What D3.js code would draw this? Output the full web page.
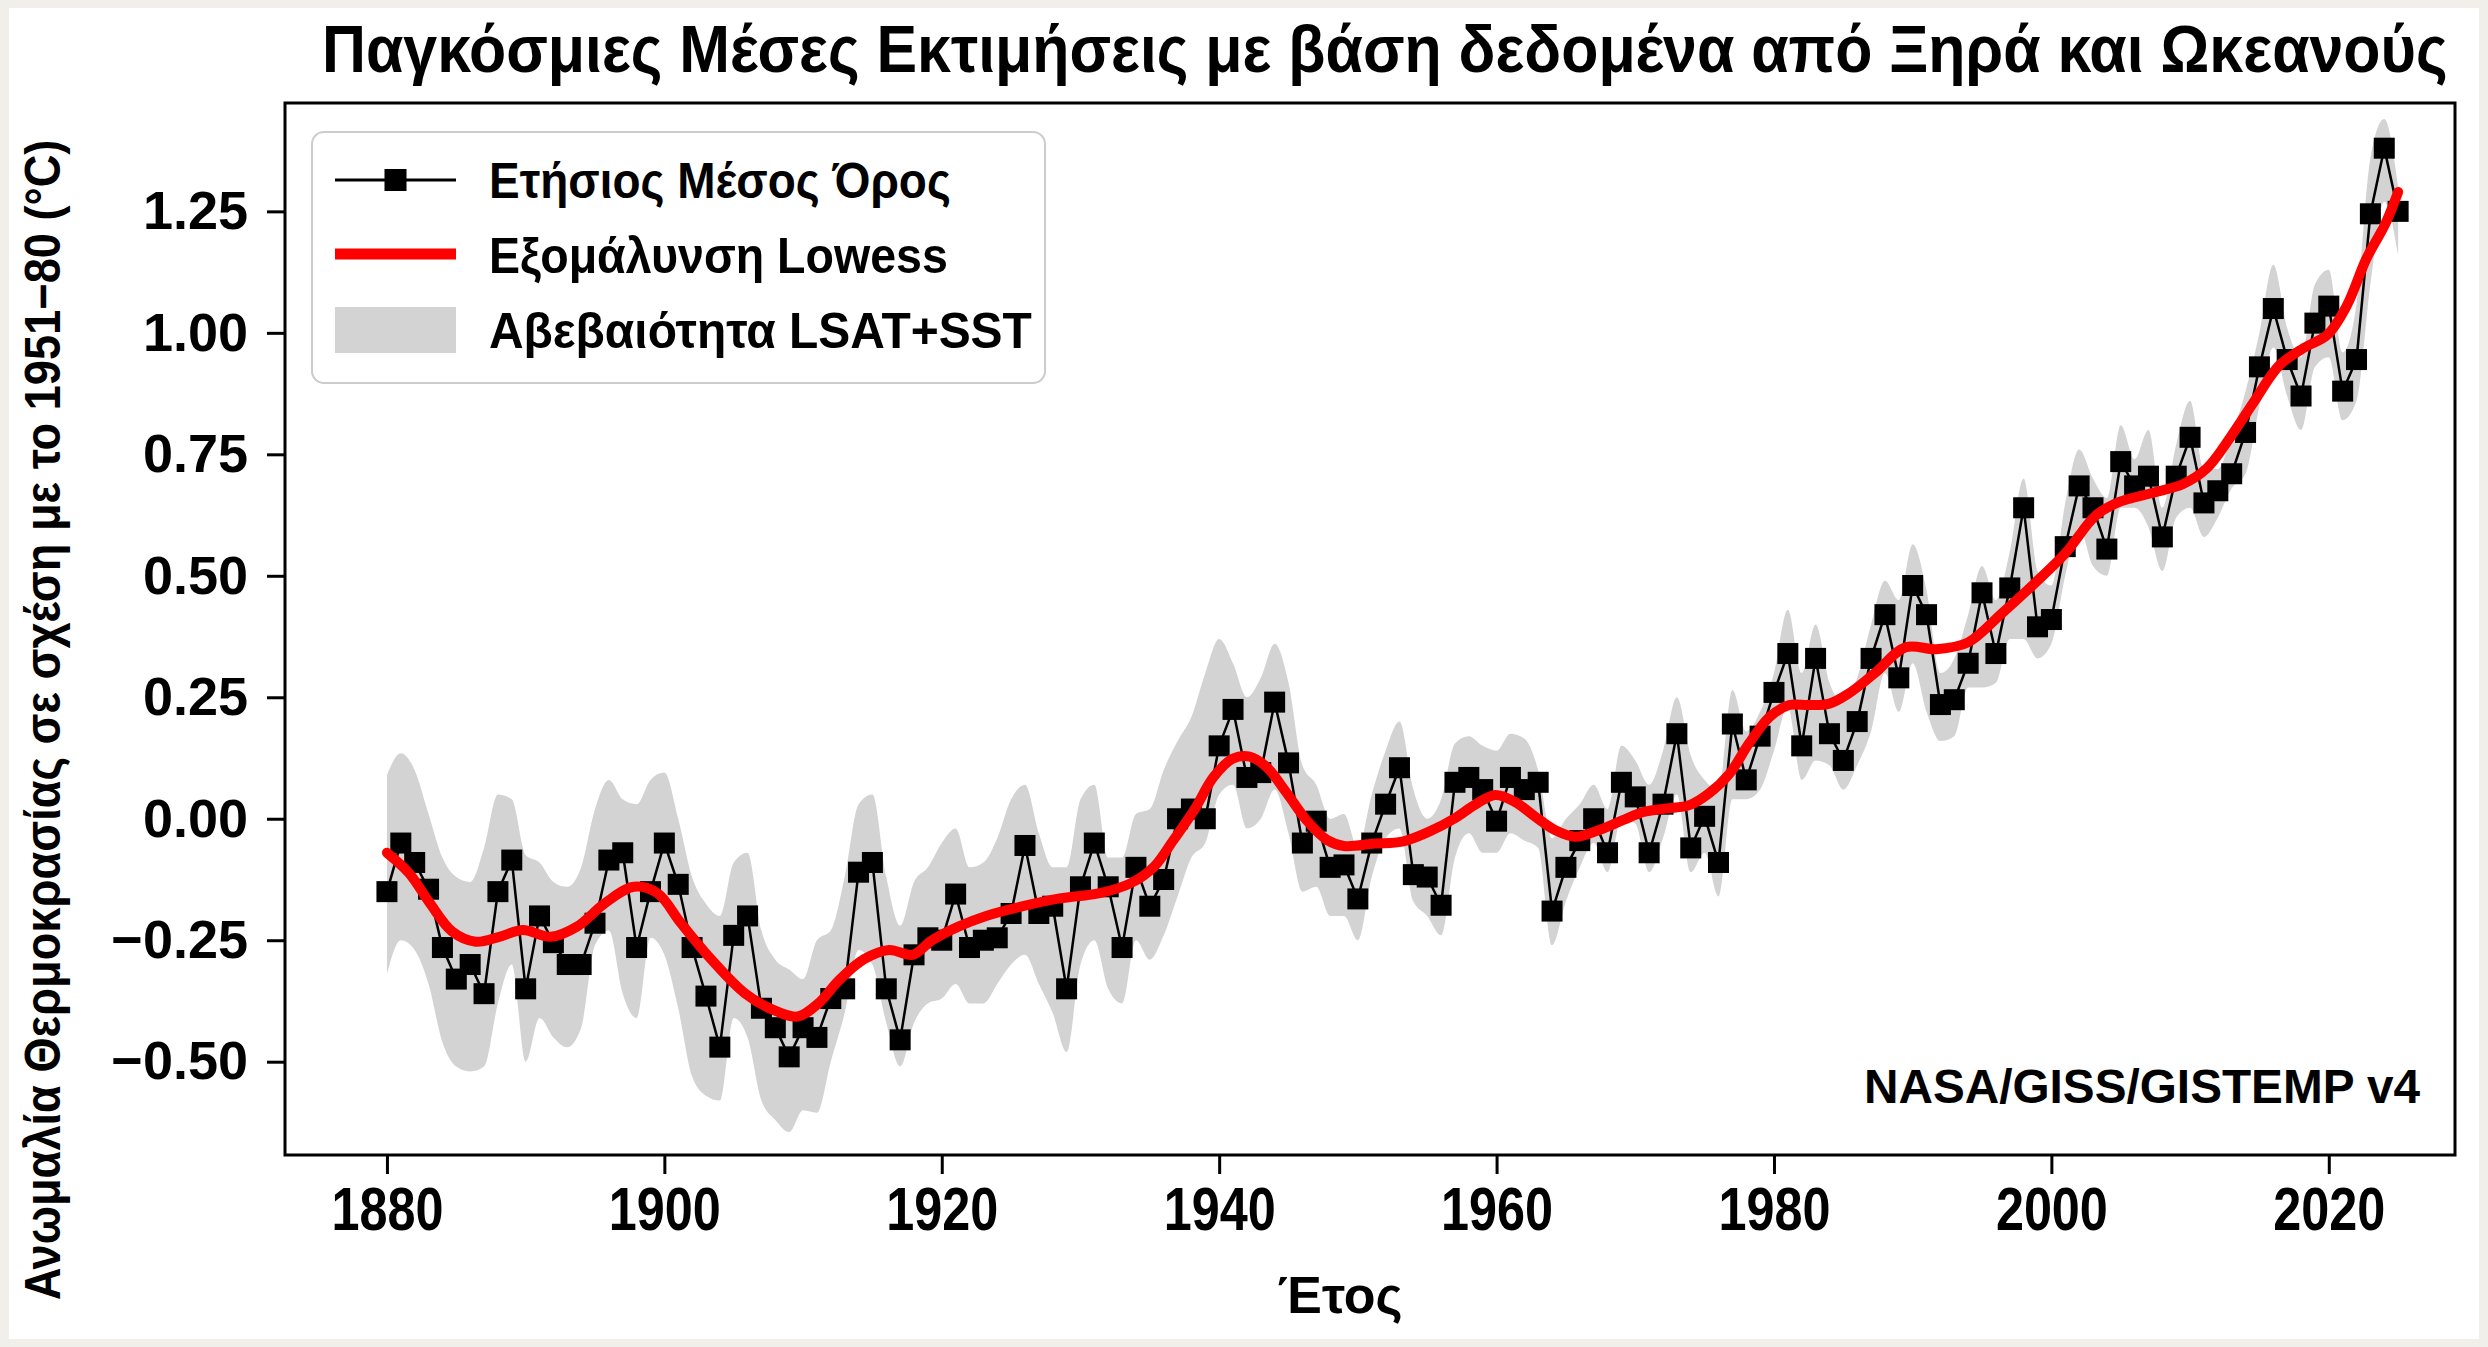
<!DOCTYPE html>
<html>
<head>
<meta charset="utf-8">
<script src="https://d3js.org/d3.v7.min.js"></script>
<style>
  html, body { margin: 0; padding: 0; background: #f1efea; }
  svg { display: block; }
  text { font-family: "Liberation Sans", Arial, sans-serif; font-weight: bold; fill: #000; }
  .narrow { font-family: "Liberation Sans Narrow", "Liberation Sans", Arial, sans-serif; }
</style>
</head>
<body>
<div id="chart"></div>
<script>

// Data
var firstYear = 1880;

// Annual mean anomaly (°C), 1880 ... 2025
var annual = [
  -0.15, -0.05, -0.09, -0.145, -0.265, -0.33, -0.30, -0.36, -0.15, -0.085,
  -0.35, -0.20, -0.255, -0.30, -0.30, -0.215, -0.085, -0.07, -0.265, -0.15,
  -0.05, -0.135, -0.265, -0.365, -0.47, -0.24, -0.20, -0.39, -0.43, -0.49,
  -0.43, -0.45, -0.37, -0.35, -0.11, -0.09, -0.35, -0.455, -0.28, -0.245,
  -0.25, -0.155, -0.265, -0.25, -0.245, -0.195, -0.055, -0.195, -0.18, -0.35,
  -0.14, -0.05, -0.14, -0.265, -0.10, -0.18, -0.125, 0.00, 0.02, 0.00,
  0.15, 0.225, 0.085, 0.095, 0.24, 0.115, -0.05, -0.005, -0.10, -0.095,
  -0.165, -0.05, 0.03, 0.105, -0.115, -0.12, -0.178, 0.075, 0.085, 0.06,
  -0.005, 0.085, 0.06, 0.075, -0.19, -0.10, -0.045, 0.00, -0.07, 0.075,
  0.045, -0.07, 0.03, 0.175, -0.06, 0.005, -0.09, 0.195, 0.08, 0.17,
  0.26, 0.34, 0.15, 0.33, 0.175, 0.12, 0.20, 0.33, 0.42, 0.29,
  0.48, 0.42, 0.235, 0.245, 0.32, 0.465, 0.34, 0.475, 0.64, 0.395,
  0.41, 0.56, 0.685, 0.64, 0.555, 0.735, 0.685, 0.705, 0.58, 0.705,
  0.785, 0.65, 0.675, 0.71, 0.795, 0.93, 1.05, 0.945, 0.87, 1.02,
  1.055, 0.88, 0.945, 1.245, 1.38, 1.25
];

// Uncertainty band, lower and upper edge, same years
var bandLow = [
  -0.32, -0.25, -0.27, -0.34, -0.46, -0.51, -0.52, -0.51, -0.38, -0.30,
  -0.50, -0.41, -0.45, -0.47, -0.43, -0.26, -0.23, -0.36, -0.41, -0.245,
  -0.28, -0.39, -0.53, -0.57, -0.58, -0.41, -0.45, -0.58, -0.62, -0.645,
  -0.60, -0.605, -0.50, -0.40, -0.27, -0.30, -0.42, -0.51, -0.42, -0.38,
  -0.37, -0.34, -0.38, -0.38, -0.34, -0.30, -0.28, -0.34, -0.40, -0.48,
  -0.30, -0.25, -0.35, -0.38, -0.25, -0.29, -0.24, -0.16, -0.08, -0.05,
  0.05, 0.07, -0.02, 0.00, 0.06, -0.03, -0.15, -0.14, -0.20, -0.20,
  -0.25, -0.12, -0.04, -0.02, -0.17, -0.20, -0.24, -0.08, -0.03, -0.07,
  -0.07, -0.03, -0.045, -0.06, -0.26, -0.17, -0.10, -0.05, -0.11, 0.00,
  -0.01, -0.11, -0.04, 0.05, -0.11, -0.07, -0.16, 0.04, 0.04, 0.06,
  0.14, 0.23, 0.08, 0.12, 0.11, 0.06, 0.11, 0.18, 0.30, 0.22,
  0.32, 0.22, 0.16, 0.17, 0.27, 0.27, 0.28, 0.37, 0.37, 0.33,
  0.36, 0.50, 0.60, 0.52, 0.50, 0.64, 0.64, 0.60, 0.51, 0.62,
  0.64, 0.58, 0.62, 0.68, 0.71, 0.85, 0.97, 0.87, 0.80, 0.93,
  0.95, 0.82, 0.86, 1.10, 1.27, 1.16
];
var bandHigh = [
  0.09, 0.135, 0.10, 0.01, -0.08, -0.12, -0.13, -0.06, 0.05, 0.04,
  -0.075, -0.09, -0.13, -0.14, -0.10, 0.02, 0.08, 0.04, 0.03, 0.08,
  0.095, 0.00, -0.12, -0.175, -0.20, -0.09, -0.07, -0.23, -0.29, -0.31,
  -0.33, -0.25, -0.23, -0.12, 0.03, 0.05, -0.12, -0.22, -0.13, -0.10,
  -0.05, -0.02, -0.10, -0.09, -0.04, 0.04, 0.07, -0.03, -0.10, -0.10,
  0.04, 0.07, -0.08, -0.08, 0.01, 0.02, 0.10, 0.16, 0.21, 0.30,
  0.37, 0.32, 0.25, 0.29, 0.36, 0.28, 0.11, 0.07, 0.00, 0.01,
  -0.06, 0.05, 0.14, 0.20, 0.06, 0.00, 0.04, 0.155, 0.17, 0.15,
  0.14, 0.175, 0.165, 0.10, -0.04, 0.00, 0.03, 0.07, 0.02, 0.15,
  0.12, 0.07, 0.14, 0.25, 0.13, 0.08, 0.06, 0.265, 0.18, 0.22,
  0.30, 0.43, 0.30, 0.40, 0.28, 0.24, 0.29, 0.40, 0.49, 0.45,
  0.565, 0.47, 0.30, 0.33, 0.42, 0.52, 0.45, 0.55, 0.70, 0.51,
  0.48, 0.65, 0.76, 0.70, 0.66, 0.81, 0.74, 0.80, 0.64, 0.77,
  0.86, 0.72, 0.72, 0.79, 0.88, 1.00, 1.14, 1.01, 0.95, 1.10,
  1.13, 0.96, 1.06, 1.36, 1.44, 1.30
];

// Lowess curve, read at uneven years
var lowessYears = [
  1880, 1881.6, 1883.1, 1884.7, 1886.4, 1888.1, 1889.8, 1891.8, 1893.7, 1895.7,
  1897.8, 1899.5, 1901.2, 1903.4, 1905.8, 1907.9, 1909.6, 1911.1, 1912.6, 1914.4,
  1916.2, 1917.9, 1919.3, 1921.2, 1923.2, 1925.7, 1928.5, 1931.4, 1933.6, 1935.3,
  1936.7, 1938.2, 1939.6, 1941.0, 1942.2, 1943.4, 1944.9, 1946.3, 1947.8, 1949.0,
  1951.2, 1953.2, 1955.1, 1957.0, 1958.4, 1959.9, 1961.3, 1962.8, 1964.2, 1965.7,
  1967.4, 1969.1, 1970.6, 1972.2, 1973.9, 1975.3, 1976.8, 1978.2, 1979.7, 1981.1,
  1982.5, 1984.0, 1985.4, 1987.2, 1989.5, 1991.7, 1994.0, 1996.4, 1998.7, 2001.0,
  2003.2, 2004.9, 2007.2, 2009.5, 2011.2, 2012.9, 2014.6, 2016.4, 2018.2, 2019.9,
  2021.3, 2022.7, 2024.1, 2025
];
var lowessValues = [
  -0.07, -0.112, -0.174, -0.232, -0.253, -0.243, -0.229, -0.243, -0.222, -0.174,
  -0.14, -0.153, -0.215, -0.29, -0.359, -0.394, -0.407, -0.38, -0.332, -0.289,
  -0.27, -0.28, -0.25, -0.222, -0.20, -0.181, -0.164, -0.153, -0.133, -0.099,
  -0.044, 0.018, 0.086, 0.124, 0.128, 0.107, 0.052, -0.003, -0.044, -0.056,
  -0.051, -0.047, -0.027, 0.001, 0.028, 0.049, 0.035, 0.004, -0.023, -0.037,
  -0.023, -0.003, 0.014, 0.021, 0.028, 0.052, 0.093, 0.155, 0.21, 0.234,
  0.234, 0.237, 0.258, 0.298, 0.353, 0.349, 0.363, 0.422, 0.482, 0.546,
  0.624, 0.652, 0.67, 0.689, 0.721, 0.785, 0.858, 0.932, 0.969, 0.996,
  1.056, 1.152, 1.226, 1.29
];

var xTicks = [1880, 1900, 1920, 1940, 1960, 1980, 2000, 2020];
var yTicks = [-0.5, -0.25, 0, 0.25, 0.5, 0.75, 1.0, 1.25];
var legendLabels = ["Ετήσιος Μέσος Όρος", "Εξομάλυνση Lowess", "Αβεβαιότητα LSAT+SST"];
var title = "Παγκόσμιες Μέσες Εκτιμήσεις με βάση δεδομένα από Ξηρά και Ωκεανούς";
var xLabel = "Έτος";
var yLabel = "Ανωμαλία Θερμοκρασίας σε σχέση με το 1951−80 (°C)";
var source = "NASA/GISS/GISTEMP v4";

// Figure size and plot frame
var width = 2488, height = 1347;
var frame = {left: 285, right: 2455, top: 103, bottom: 1155};
var bandColor = "#d3d3d3";

var rows = annual.map(function(v, i) {
  return {year: firstYear + i, value: v, low: bandLow[i], high: bandHigh[i]};
});
var lowess = lowessYears.map(function(yr, i) { return {year: yr, value: lowessValues[i]}; });

var x = d3.scaleLinear().domain([1872.65, 2029.1]).range([frame.left, frame.right]);
var y = d3.scaleLinear().domain([-0.692, 1.473]).range([frame.bottom, frame.top]);

var svg = d3.select("#chart")
  .append("svg")
    .attr("width", width)
    .attr("height", height);

// squeeze a text horizontally so that it spans `target` pixels
// (base is the transform the text already sits in)
function fitWidth(t, base, target) {
  var w = t.node().getComputedTextLength();
  var s = Math.min(1, target / w);
  t.attr("transform", base + " scale(" + s + ",1)");
}

// white figure on a faint paper border
svg.append("rect")
  .attr("x", 9).attr("y", 8)
  .attr("width", width - 18).attr("height", height - 16)
  .attr("fill", "#ffffff");

// uncertainty band
svg.append("path")
  .datum(rows)
  .attr("fill", bandColor)
  .attr("d", d3.area()
    .x(function(d) { return x(d.year); })
    .y0(function(d) { return y(d.low); })
    .y1(function(d) { return y(d.high); })
    .curve(d3.curveMonotoneX));

// annual means, line + square markers
svg.append("path")
  .datum(rows)
  .attr("fill", "none")
  .attr("stroke", "#000")
  .attr("stroke-width", 2.5)
  .attr("d", d3.line()
    .x(function(d) { return x(d.year); })
    .y(function(d) { return y(d.value); }));

var marker = 21;
svg.append("g")
  .selectAll("rect")
  .data(rows)
  .enter()
  .append("rect")
    .attr("x", function(d) { return x(d.year) - marker / 2; })
    .attr("y", function(d) { return y(d.value) - marker / 2; })
    .attr("width", marker)
    .attr("height", marker)
    .attr("fill", "#000");

// lowess smoothing
svg.append("path")
  .datum(lowess)
  .attr("fill", "none")
  .attr("stroke", "#ff0000")
  .attr("stroke-width", 10)
  .attr("stroke-linecap", "round")
  .attr("d", d3.line()
    .x(function(d) { return x(d.year); })
    .y(function(d) { return y(d.value); })
    .curve(d3.curveCatmullRom));

// axes
var xAxis = svg.append("g")
  .attr("transform", "translate(0," + frame.bottom + ")")
  .call(d3.axisBottom(x).tickValues(xTicks).tickFormat(d3.format("d")).tickSize(19).tickPadding(12));
var yAxis = svg.append("g")
  .attr("transform", "translate(" + frame.left + ",0)")
  .call(d3.axisLeft(y).tickValues(yTicks).tickFormat(d3.format(".2f")).tickSize(18).tickPadding(19));

[xAxis, yAxis].forEach(function(ax) {
  ax.select(".domain").remove();
  ax.selectAll(".tick line").attr("stroke", "#000").attr("stroke-width", 3);
  ax.selectAll("text").attr("font-family", null).attr("fill", "#000");
});
xAxis.selectAll("text")
  .attr("class", "narrow")
  .attr("font-size", 62)
  .each(function() { fitWidth(d3.select(this), "", 112); });
yAxis.selectAll("text")
  .attr("font-size", 54);

// frame
svg.append("rect")
  .attr("x", frame.left).attr("y", frame.top)
  .attr("width", frame.right - frame.left)
  .attr("height", frame.bottom - frame.top)
  .attr("fill", "none")
  .attr("stroke", "#000")
  .attr("stroke-width", 3);

// legend
var leg = svg.append("g");
leg.append("rect")
  .attr("x", 312).attr("y", 132)
  .attr("width", 733).attr("height", 251)
  .attr("rx", 12)
  .attr("fill", "#fff")
  .attr("fill-opacity", 0.85)
  .attr("stroke", "#cccccc")
  .attr("stroke-width", 2);

leg.append("line")
  .attr("x1", 335).attr("x2", 456).attr("y1", 180).attr("y2", 180)
  .attr("stroke", "#000").attr("stroke-width", 3);
leg.append("rect")
  .attr("x", 395.5 - 11).attr("y", 180 - 11)
  .attr("width", 22).attr("height", 22)
  .attr("fill", "#000");
leg.append("line")
  .attr("x1", 335).attr("x2", 456).attr("y1", 254).attr("y2", 254)
  .attr("stroke", "#ff0000").attr("stroke-width", 11);
leg.append("rect")
  .attr("x", 335).attr("y", 307)
  .attr("width", 121).attr("height", 46)
  .attr("fill", bandColor);

var legY = [198, 273, 348];
var legW = [462, 459, 543];
leg.selectAll("text.lab")
  .data(legendLabels)
  .enter()
  .append("text")
    .attr("class", "lab narrow")
    .attr("font-size", 50)
    .text(function(d) { return d; })
    .each(function(d, i) { fitWidth(d3.select(this), "translate(489," + legY[i] + ")", legW[i]); });

// texts
fitWidth(svg.append("text")
  .attr("class", "narrow")
  .attr("font-size", 67)
  .text(title), "translate(322,72)", 2126);

fitWidth(svg.append("text")
  .attr("class", "narrow")
  .attr("text-anchor", "middle")
  .attr("font-size", 52)
  .text(xLabel), "translate(1340,1313)", 127);

fitWidth(svg.append("text")
  .attr("class", "narrow")
  .attr("text-anchor", "middle")
  .attr("font-size", 50)
  .text(yLabel), "translate(60,720) rotate(-90)", 1161);

fitWidth(svg.append("text")
  .attr("text-anchor", "end")
  .attr("font-size", 48)
  .text(source), "translate(2420,1103)", 556);

</script>
</body>
</html>
